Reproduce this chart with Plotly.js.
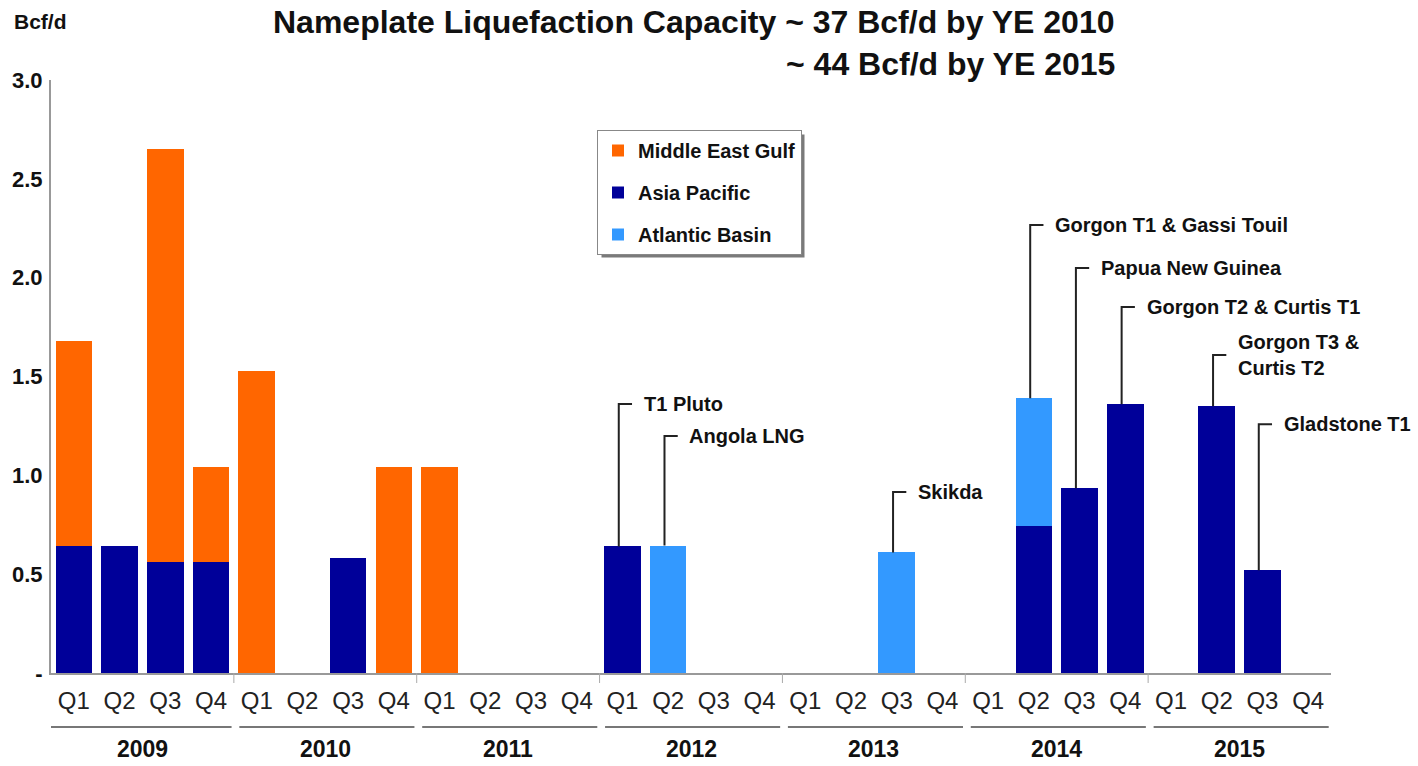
<!DOCTYPE html>
<html>
<head>
<meta charset="utf-8">
<script src="https://cdn.plot.ly/plotly-3.0.1.min.js"></script>
<style>
  html, body { margin: 0; padding: 0; background: #fff; }
  #chart { width: 1418px; height: 766px; }
</style>
</head>
<body>
<div id="chart"></div>
<script>
// ---------- data ----------
const years = ['2009', '2010', '2011', '2012', '2013', '2014', '2015'];
const quarterNames = ['Q1', 'Q2', 'Q3', 'Q4'];
const categories = years.flatMap(y => quarterNames.map(q => y + ' ' + q));

const middleEastGulf = [
  1.04, null, 2.09, 0.48,
  1.53, null, null, 1.04,
  1.04, null, null, null,
  null, null, null, null,
  null, null, null, null,
  null, null, null, null,
  null, null, null, null
];
const asiaPacific = [
  0.64, 0.64, 0.56, 0.56,
  null, null, 0.58, null,
  null, null, null, null,
  0.64, null, null, null,
  null, null, null, null,
  null, 0.745, 0.935, 1.36,
  null, 1.35, 0.52, null
];
const atlanticBasin = [
  null, null, null, null,
  null, null, null, null,
  null, null, null, null,
  null, 0.645, null, null,
  null, null, 0.61, null,
  null, 0.645, null, null,
  null, null, null, null
];
const seriesNames = ['Middle East Gulf', 'Asia Pacific', 'Atlantic Basin'];

const projectNames = ['T1 Pluto', 'Angola LNG', 'Skikda', 'Gorgon T1 & Gassi Touil',
  'Papua New Guinea', 'Gorgon T2 & Curtis T1', 'Gorgon T3 &<br>Curtis T2', 'Gladstone T1'];
const projectQuarters = ['2012 Q1', '2012 Q2', '2013 Q3', '2014 Q2',
  '2014 Q3', '2014 Q4', '2015 Q2', '2015 Q3'];

const yTickVals = [0, 0.5, 1.0, 1.5, 2.0, 2.5, 3.0];
const yTickText = ['-', '0.5', '1.0', '1.5', '2.0', '2.5', '3.0'];

// ---------- layout config (positions / styles) ----------
const labelHeights = [1.361, 1.199, 0.916, 2.266, 2.049, 1.851, 1.609, 1.259];
const COLORS = { meg: '#FF6600', ap: '#000099', ab: '#3399FF' };
const SANS = 'Liberation Sans, Arial, sans-serif';
const NARROW = 'Liberation Sans Narrow, Arial Narrow, Liberation Sans, sans-serif';

const xIdx = categories.map((_, i) => i);
const totals = xIdx.map(i => (middleEastGulf[i] || 0) + (asiaPacific[i] || 0) + (atlanticBasin[i] || 0));

const traces = [
  { type: 'bar', name: seriesNames[1], x: xIdx, y: asiaPacific, marker: { color: COLORS.ap },
    legendrank: 2, legendgroup: 'ap', hoverinfo: 'none' },
  { type: 'bar', name: seriesNames[0], x: xIdx, y: middleEastGulf, marker: { color: COLORS.meg },
    legendrank: 1, legendgroup: 'meg', hoverinfo: 'none' },
  { type: 'bar', name: seriesNames[2], x: xIdx, y: atlanticBasin, marker: { color: COLORS.ab },
    legendrank: 3, legendgroup: 'ab', hoverinfo: 'none' }
];

const L = 51, R = 87, T = 80, B = 93, W = 1418, H = 766;
const plotW = W - L - R, plotH = H - T - B;
const px2paperX = px => (px - L) / plotW;
const px2paperY = py => (H - B - py) / plotH;

const shapes = [];
const annotations = [];

// leader lines + project labels
projectNames.forEach((name, k) => {
  const ci = categories.indexOf(projectQuarters[k]);
  const xi = ci - 0.08;
  const top = totals[ci];
  const ly = labelHeights[k];
  shapes.push({ type: 'path', xref: 'x', yref: 'y',
    path: `M${xi},${top} L${xi},${ly} L${xi + 0.29},${ly}`,
    line: { color: '#222', width: 2 } });
  annotations.push({ xref: 'x', yref: 'y', x: xi, y: ly, xanchor: 'left', yanchor: 'middle',
    xshift: 23, text: '<b>' + name + '</b>', showarrow: false, align: 'left',
    font: { family: SANS, size: 20, color: '#111' } });
});

// year groups under the axis
years.forEach((yr, k) => {
  const x0 = 4 * k - 0.5 + (k > 0 ? 0.12 : 0);
  const x1 = 4 * k + 3.5 - 0.05;
  shapes.push({ type: 'line', xref: 'x', yref: 'paper', x0: x0, x1: x1,
    y0: px2paperY(727), y1: px2paperY(727), line: { color: '#777', width: 2 } });
  if (k > 0) {
    shapes.push({ type: 'line', xref: 'x', yref: 'paper', x0: 4 * k - 0.5, x1: 4 * k - 0.5,
      y0: 0, y1: px2paperY(683), line: { color: '#aaa', width: 1 } });
  }
  annotations.push({ xref: 'x', yref: 'paper', x: 4 * k + 1.5, y: px2paperY(749),
    xanchor: 'center', yanchor: 'middle', showarrow: false, text: '<b>' + yr + '</b>',
    font: { family: NARROW, size: 23, color: '#111' } });
});

// title & unit
annotations.push({ xref: 'paper', yref: 'paper', x: px2paperX(1117), y: px2paperY(22),
  xanchor: 'right', yanchor: 'middle', showarrow: false,
  text: '<b>Nameplate Liquefaction Capacity ~ 37 Bcf/d by YE 2010</b>',
  font: { family: NARROW, size: 32, color: '#111' } });
annotations.push({ xref: 'paper', yref: 'paper', x: px2paperX(1117), y: px2paperY(64),
  xanchor: 'right', yanchor: 'middle', showarrow: false,
  text: '<b>~ 44 Bcf/d by YE 2015</b>',
  font: { family: NARROW, size: 32, color: '#111' } });
annotations.push({ xref: 'paper', yref: 'paper', x: px2paperX(12), y: px2paperY(22),
  xanchor: 'left', yanchor: 'middle', showarrow: false, text: '<b>Bcf/d</b>',
  font: { family: SANS, size: 21, color: '#111' } });

const layout = {
  width: W, height: H,
  margin: { l: L, r: R, t: T, b: B },
  paper_bgcolor: '#fff', plot_bgcolor: '#fff',
  barmode: 'stack', bargap: 0.2,
  showlegend: true,
  legend: {
    x: px2paperX(597), y: px2paperY(130), xanchor: 'left', yanchor: 'top',
    bgcolor: '#fff', bordercolor: '#888', borderwidth: 1,
    traceorder: 'grouped', tracegroupgap: 13,
    font: { family: SANS, size: 20, color: '#111', weight: 'bold' }
  },
  xaxis: {
    range: [-0.5, 27.5], fixedrange: true,
    tickmode: 'array', tickvals: xIdx, ticktext: categories.map(c => c.split(' ')[1]),
    ticks: '', ticklabelstandoff: 5,
    tickfont: { family: NARROW, size: 24, color: '#222' },
    showline: true, linecolor: '#999', linewidth: 2,
    showgrid: false, zeroline: false
  },
  yaxis: {
    range: [0, 3], fixedrange: true,
    tickmode: 'array', tickvals: yTickVals, ticktext: yTickText,
    ticks: '', ticklabelstandoff: 2,
    tickfont: { family: SANS, size: 22, color: '#111', weight: 'bold' },
    showline: true, linecolor: '#999', linewidth: 2,
    showgrid: false, zeroline: false
  },
  shapes: shapes,
  annotations: annotations
};

Plotly.newPlot('chart', traces, layout, { displayModeBar: false, staticPlot: true }).then(gd => {
  // drop shadow behind the legend box, sized to the drawn legend
  const bg = gd.querySelector('.legend .bg');
  if (!bg) return;
  const r = bg.getBoundingClientRect();
  const c = gd.getBoundingClientRect();
  const left = r.left - c.left, top = r.top - c.top;
  const shadow = { type: 'rect', xref: 'paper', yref: 'paper', layer: 'below',
    x0: px2paperX(left + 4), x1: px2paperX(left + r.width + 3),
    y0: px2paperY(top + r.height + 3), y1: px2paperY(top + 4),
    fillcolor: '#7a7a7a', line: { width: 0 } };
  return Plotly.relayout(gd, { shapes: shapes.concat([shadow]) });
});
</script>
</body>
</html>
